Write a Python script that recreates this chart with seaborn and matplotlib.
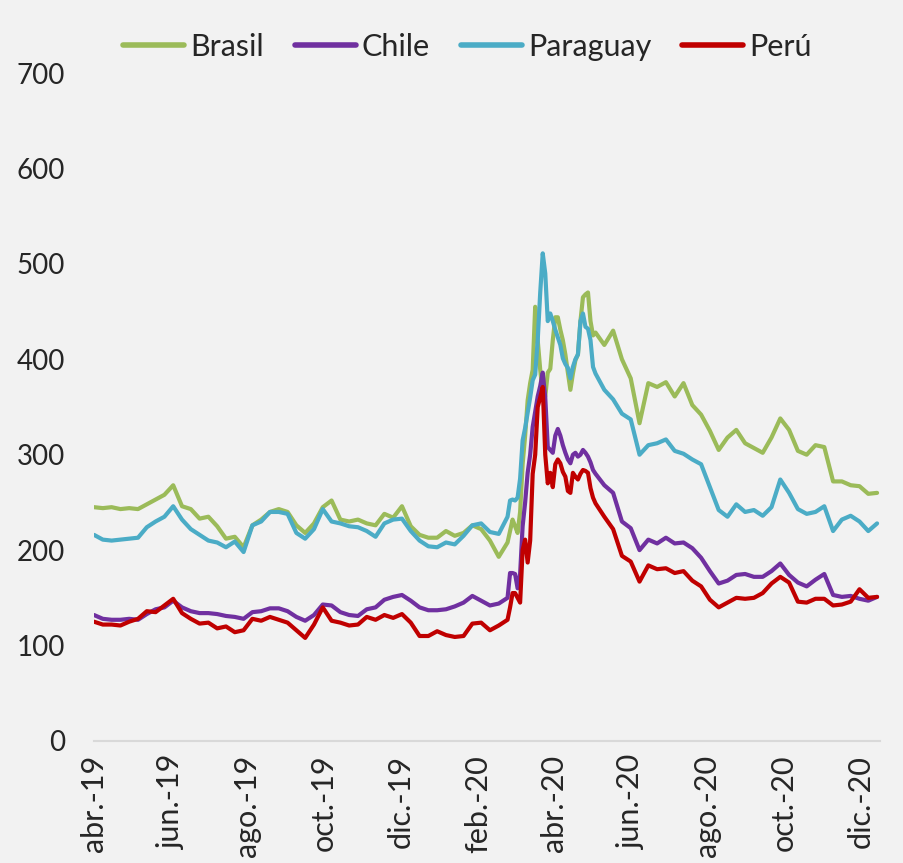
import pandas as pd
import matplotlib
matplotlib.use("Agg")
import matplotlib.pyplot as plt
import matplotlib.dates as mdates
from matplotlib.ticker import FuncFormatter
from matplotlib.lines import Line2D
import seaborn as sns

# fechas: semanal, cada 2 dias en la crisis de marzo 2020, luego semanal
fechas = (list(pd.date_range("2019-04-01", "2020-02-17", freq="7D"))
          + list(pd.date_range("2020-02-24", "2020-05-04", freq="2D"))
          + list(pd.date_range("2020-05-11", "2020-12-14", freq="7D")))

brasil = [245, 244, 245, 243, 244, 243, 248, 253, 258, 268,
          246, 243, 233, 235, 225, 212, 214, 203, 226, 232,
          240, 243, 240, 226, 218, 228, 245, 252, 232, 230,
          232, 228, 226, 238, 234, 246, 225, 216, 213, 213,
          220, 215, 218, 226, 222, 210, 193,
          208, 220, 232, 225, 218, 240, 290, 320, 357, 375,
          389, 455, 420, 389, 365, 361, 386, 390, 420, 444,
          444, 431, 420, 405, 386, 368, 385, 399, 405, 440,
          465, 468, 470, 440, 425, 428,
          415, 430, 400, 380, 333, 375, 371, 376, 361, 375,
          352, 342, 325, 305, 318, 326, 312, 307, 302, 318,
          338, 326, 304, 300, 310, 308, 272, 272, 268, 267,
          259, 260]

chile = [132, 128, 127, 127, 128, 127, 133, 138, 140, 147,
         140, 136, 134, 134, 133, 131, 130, 128, 135, 136,
         139, 139, 136, 130, 126, 132, 143, 142, 135, 132,
         131, 138, 140, 148, 151, 153, 147, 140, 137, 137,
         138, 141, 145, 152, 147, 142, 144,
         150, 176, 176, 175, 160, 175, 225, 250, 281, 300,
         329, 345, 361, 372, 386, 360, 308, 305, 302, 320,
         327, 320, 310, 302, 295, 291, 300, 302, 298, 300,
         305, 302, 298, 292, 284, 280,
         268, 260, 230, 223, 200, 211, 207, 213, 207, 208,
         202, 192, 178, 165, 168, 174, 175, 172, 172, 178,
         186, 174, 166, 162, 169, 175, 153, 151, 152, 149,
         147, 151]

paraguay = [216, 211, 210, 211, 212, 213, 224, 230, 235, 246,
            232, 222, 216, 210, 208, 203, 209, 198, 226, 230,
            240, 240, 238, 218, 212, 222, 243, 230, 228, 225,
            224, 220, 214, 228, 232, 233, 220, 210, 204, 203,
            208, 206, 215, 226, 228, 219, 217,
            235, 252, 253, 252, 255, 275, 315, 328, 344, 360,
            378, 384, 420, 470, 511, 490, 440, 448, 440, 431,
            423, 415, 401, 395, 391, 380, 392, 400, 405, 440,
            448, 434, 432, 420, 392, 385,
            368, 358, 343, 337, 300, 310, 312, 316, 304, 301,
            295, 290, 266, 242, 235, 248, 240, 242, 236, 245,
            274, 260, 243, 238, 240, 246, 220, 232, 236, 230,
            220, 228]

peru = [125, 122, 122, 121, 125, 128, 136, 135, 142, 149,
        134, 128, 123, 124, 118, 120, 114, 116, 128, 126,
        130, 127, 124, 116, 108, 122, 140, 126, 124, 121,
        122, 130, 127, 132, 129, 133, 124, 110, 110, 115,
        111, 109, 110, 123, 124, 116, 121,
        127, 140, 155, 155, 150, 145, 200, 211, 187, 210,
        280, 300, 350, 360, 371, 300, 270, 281, 266, 290,
        295, 291, 282, 277, 262, 260, 281, 277, 274, 280,
        284, 283, 281, 265, 255, 249,
        235, 222, 194, 188, 167, 184, 180, 181, 176, 178,
        168, 162, 148, 140, 145, 150, 149, 150, 155, 165,
        172, 166, 146, 145, 149, 149, 142, 143, 146, 159,
        150, 151]

paises = ["Brasil", "Chile", "Paraguay", "Perú"]
colores = ["#9BBB59", "#7030A0", "#4BACC6", "#C00000"]
meses = ["ene.", "feb.", "mar.", "abr.", "may.", "jun.",
         "jul.", "ago.", "sep.", "oct.", "nov.", "dic."]

df = pd.DataFrame({"fecha": fechas, "Brasil": brasil, "Chile": chile,
                   "Paraguay": paraguay, "Perú": peru})
largo = df.melt(id_vars="fecha", var_name="pais", value_name="valor")

sns.set_style("white")
plt.rcParams["font.family"] = ["Lato", "DejaVu Sans"]

fig = plt.figure(figsize=(9.04, 8.63), dpi=100, facecolor="#F2F2F2")
ax = fig.add_axes([0.104, 0.1414, 0.869, 0.774])
ax.set_facecolor("#F2F2F2")

sns.lineplot(data=largo, x="fecha", y="valor", hue="pais", hue_order=paises,
             palette=colores, linewidth=3, ax=ax, legend=False)

ax.set_ylim(0, 700)
ax.set_yticks(range(0, 701, 100))
ax.set_xlim(pd.Timestamp("2019-04-01"), pd.Timestamp("2020-12-16"))
ax.xaxis.set_major_locator(mdates.MonthLocator(bymonth=[2, 4, 6, 8, 10, 12]))
ax.xaxis.set_major_formatter(FuncFormatter(
    lambda v, p: f"{meses[mdates.num2date(v).month - 1]}-{mdates.num2date(v).strftime('%y')}"))

ax.set_xlabel("")
ax.set_ylabel("")
for s in ["top", "right", "left"]:
    ax.spines[s].set_visible(False)
ax.spines["bottom"].set_color("#D9D9D9")
ax.spines["bottom"].set_linewidth(1.5)

ax.tick_params(axis="x", labelsize=22, rotation=90, length=6, width=1.2,
               color="#D9D9D9", direction="out", pad=4)
ax.tick_params(axis="y", labelsize=20, length=0, pad=21)

handles = [Line2D([], [], color=c, linewidth=4) for c in colores]
fig.legend(handles, paises, loc="center", bbox_to_anchor=(0.517, 0.9455),
           ncol=4, frameon=False, fontsize=22, handlelength=2.0,
           handletextpad=0.2, columnspacing=1.0)

fig.savefig("out.png", dpi=100, facecolor=fig.get_facecolor())
